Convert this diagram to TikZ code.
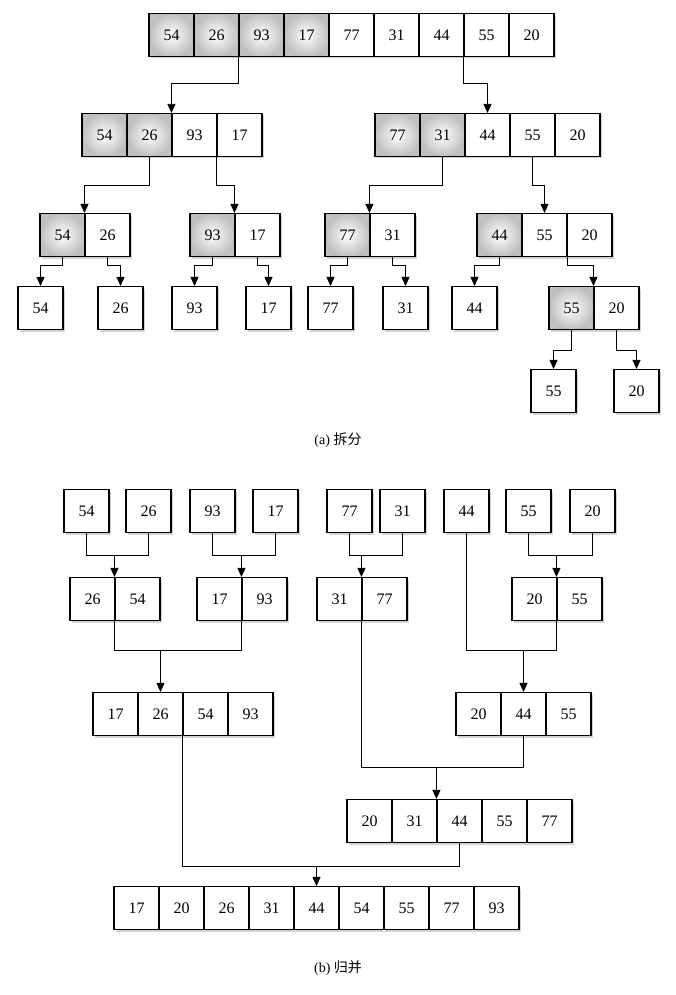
\documentclass[tikz,border=0pt]{standalone}
\usepackage{fontspec}
\setmainfont{Liberation Serif}
\newfontfamily\cjk{Noto Sans CJK SC}
\usetikzlibrary{shadows,arrows.meta}
\tikzset{
  cell/.style={draw=black, line width=1.1pt, minimum width=45pt, minimum height=43pt, inner sep=0pt,
    font=\fontsize{16}{18}\selectfont, fill=white,
    drop shadow={opacity=0.35, shadow xshift=2pt, shadow yshift=-2pt}},
  shd/.style={inner color=white, outer color=black!25},
  arr/.style={line width=0.8pt, -{Triangle[length=9pt,width=8pt]}},
}
\newcommand{\cellrow}[4]{% name, x0, yc, list of v/s
  \foreach \v/\s [count=\i] in {#4} {
    \ifnum\s=1
      \node[cell,shd] (#1\i) at ({#2+(\i-0.5)*45},#3) {\v};
    \else
      \node[cell] (#1\i) at ({#2+(\i-0.5)*45},#3) {\v};
    \fi
  }}
\begin{document}
\begin{tikzpicture}[x=1pt,y=-1pt]
\useasboundingbox (0,0) rectangle (676,995);
% ---------- (a)
\cellrow{T}{149}{35}{54/1,26/1,93/1,17/1,77/0,31/0,44/0,55/0,20/0}
\cellrow{L}{82}{135}{54/1,26/1,93/0,17/0}
\cellrow{R}{375}{135}{77/1,31/1,44/0,55/0,20/0}
\cellrow{A}{40}{235}{54/1,26/0}
\cellrow{B}{190}{235}{93/1,17/0}
\cellrow{C}{325}{235}{77/1,31/0}
\cellrow{D}{477}{235}{44/1,55/0,20/0}
\cellrow{E}{18}{308}{54/0}
\cellrow{F}{98}{308}{26/0}
\cellrow{G}{172}{308}{93/0}
\cellrow{H}{246}{308}{17/0}
\cellrow{I}{308}{308}{77/0}
\cellrow{J}{383}{308}{31/0}
\cellrow{K}{452}{308}{44/0}
\cellrow{P}{549}{308}{55/1,20/0}
\cellrow{Q}{531}{391}{55/0}
\cellrow{S}{614}{391}{20/0}
\node[font=\fontsize{14}{16}\selectfont] (capa) at (338,440) {(a) {\cjk 拆分}};
\draw[arr] (T3.south west) -- (T3.south west |- 0,83) -| (L3.north west);
\draw[arr] (T8.south west) -- (T8.south west |- 0,83) -| (R3.north);
\draw[arr] (L2.south) -- (L2.south |- 0,185) -| (A2.north west);
\draw[arr] (L4.south west) -- (L4.south west |- 0,185) -| (B2.north west);
\draw[arr] (R2.south) -- (R2.south |- 0,185) -| (C2.north west);
\draw[arr] (R4.south) -- (R4.south |- 0,185) -| (D2.north);
\foreach \s/\t in {A1/E1,A2/F1,B1/G1,B2/H1,C1/I1,C2/J1,D1/K1}
  \draw[arr] (\s.south) -- (\s.south |- 0,265) -| (\t.north);
\draw[arr] (D2.south east) -- (D2.south east |- 0,265) -| (P2.north west);
\draw[arr] (P1.south) -- (P1.south |- 0,350) -| (Q1.north);
\draw[arr] (P2.south) -- (P2.south |- 0,350) -| (S1.north);
% ---------- (b)
\cellrow{a}{64}{511}{54/0}
\cellrow{b}{126}{511}{26/0}
\cellrow{c}{190}{511}{93/0}
\cellrow{d}{253}{511}{17/0}
\cellrow{e}{327}{511}{77/0}
\cellrow{f}{380}{511}{31/0}
\cellrow{g}{444}{511}{44/0}
\cellrow{h}{506}{511}{55/0}
\cellrow{k}{570}{511}{20/0}
\cellrow{m}{70}{599}{26/0,54/0}
\cellrow{n}{197}{599}{17/0,93/0}
\cellrow{o}{317}{599}{31/0,77/0}
\cellrow{p}{512}{599}{20/0,55/0}
\cellrow{q}{93}{714}{17/0,26/0,54/0,93/0}
\cellrow{r}{456}{714}{20/0,44/0,55/0}
\cellrow{s}{347}{821}{20/0,31/0,44/0,55/0,77/0}
\cellrow{u}{114}{908}{17/0,20/0,26/0,31/0,44/0,54/0,55/0,77/0,93/0}
\node[font=\fontsize{14}{16}\selectfont] (capb) at (338,968) {(b) {\cjk 归并}};
\foreach \x/\y/\t in {a1/b1/m2, c1/d1/n2, e1/f1/o2, h1/k1/p2} {
  \draw[line width=0.8pt] (\x.south) -- (\x.south |- 0,555) -| (\y.south);
  \draw[arr] (\t.north west |- 0,555) -- (\t.north west);
}
\draw[line width=0.8pt] (m2.south west) -- (m2.south west |- 0,650) -| (n2.south west);
\draw[arr] (q2.north |- 0,650) -- (q2.north);
\draw[line width=0.8pt] (g1.south) -- (g1.south |- 0,650) -| (p2.south west);
\draw[arr] (r2.north |- 0,650) -- (r2.north);
\draw[line width=0.8pt] (o2.south west) -- (o2.south west |- 0,767) -| (r2.south);
\draw[arr] (s3.north west |- 0,767) -- (s3.north west);
\draw[line width=0.8pt] (q3.south west) -- (q3.south west |- 0,866) -| (s3.south);
\draw[arr] (u5.north |- 0,866) -- (u5.north);
\end{tikzpicture}
\end{document}
